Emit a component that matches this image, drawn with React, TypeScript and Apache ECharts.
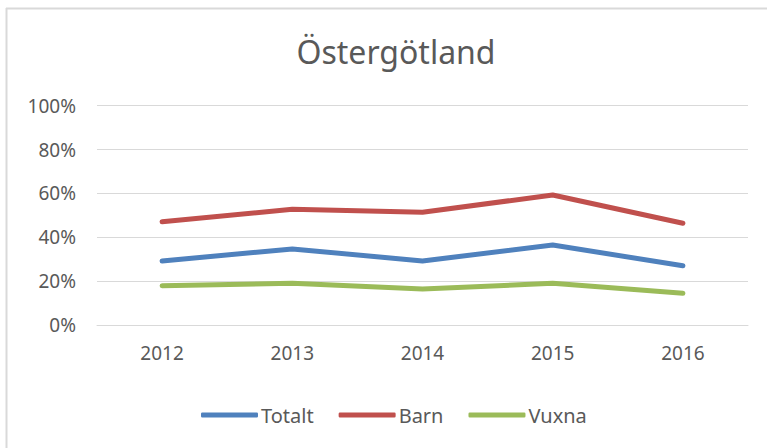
import React, { useEffect, useRef } from "react";
import * as echarts from "echarts";

const categories = ["2012", "2013", "2014", "2015", "2016"];
const totalt = [29.2, 34.7, 29.2, 36.5, 27.0];
const barn = [47.1, 52.8, 51.4, 59.3, 46.4];
const vuxna = [17.9, 19.0, 16.4, 19.0, 14.5];
const seriesNames = ["Totalt", "Barn", "Vuxna"];
const colors = ["#4F81BD", "#C0504D", "#9BBB59"];

const FONT = "'Noto Sans', 'Open Sans', sans-serif";

export default function App() {
  const ref = useRef<HTMLDivElement>(null);
  useEffect(() => {
    if (!ref.current) return;
    const chart = echarts.init(ref.current, undefined, { renderer: "svg" });
    const data = [totalt, barn, vuxna];
    chart.setOption({
      animation: false,
      backgroundColor: "#ffffff",
      title: {
        text: "Östergötland",
        left: 391,
        top: 30,
        textAlign: "center",
        textStyle: {
          fontFamily: FONT,
          fontSize: 32,
          fontWeight: "normal",
          color: "#595959",
        },
      },
      graphic: [
        {
          type: "line",
          shape: { x1: 6, y1: 8.5, x2: 767, y2: 8.5 },
          style: { stroke: "#d9d9d9", lineWidth: 2 },
        },
        {
          type: "line",
          shape: { x1: 6.5, y1: 8, x2: 6.5, y2: 448 },
          style: { stroke: "#d9d9d9", lineWidth: 2 },
        },
      ],
      grid: { left: 97, right: 19, top: 105.7, bottom: 123, containLabel: false },
      legend: {
        left: 196,
        top: 398,
        itemWidth: 57,
        itemHeight: 5,
        itemGap: 25,
        icon: "roundRect",
        data: seriesNames,
        textStyle: {
          fontFamily: FONT,
          fontSize: 20,
          color: "#595959",
          lineHeight: 24,
          padding: [0, 0, 0, -2],
        },
      },
      xAxis: {
        type: "category",
        data: categories,
        boundaryGap: true,
        axisLine: { lineStyle: { color: "#d9d9d9", width: 1 } },
        axisTick: { show: false },
        axisLabel: {
          fontFamily: FONT,
          fontSize: 19,
          color: "#595959",
          margin: 18,
        },
      },
      yAxis: {
        type: "value",
        min: 0,
        max: 100,
        interval: 20,
        axisLine: { show: false },
        axisTick: { show: false },
        splitLine: { lineStyle: { color: "#d9d9d9", width: 1 } },
        axisLabel: {
          formatter: "{value}%",
          fontFamily: FONT,
          fontSize: 19,
          color: "#595959",
          margin: 21,
        },
      },
      series: seriesNames.map((name, i) => ({
        name,
        type: "line",
        data: data[i],
        symbol: "none",
        smooth: false,
        color: colors[i],
        lineStyle: { width: 5, color: colors[i], cap: "round", join: "round" },
      })),
    });
    return () => chart.dispose();
  }, []);
  return (
    <div
      ref={ref}
      style={{ position: "fixed", left: 0, top: 0, width: 767, height: 448 }}
    />
  );
}
